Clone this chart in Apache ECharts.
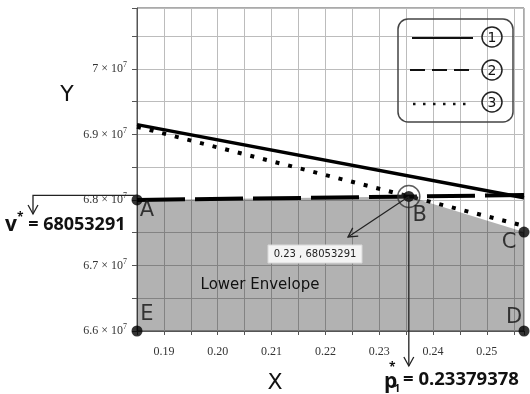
<!DOCTYPE html>
<html>
<head>
<meta charset="utf-8">
<script src="https://cdn.jsdelivr.net/npm/echarts@6/dist/echarts.min.js"></script>
<style>html,body{margin:0;padding:0;background:#fff}#c{width:530px;height:394px}</style>
</head>
<body>
<div id="c"></div>
<script>
// ---- data ----
const xMin = 0.185, xMax = 0.2569, xInterval = 0.005;
const yMin = 66000000, yMax = 70930000, yInterval = 500000;
const line1 = [[0.185, 69150000], [0.2569, 68033000]];   // solid (1)
const line2 = [[0.185, 68000000], [0.2569, 68075000]];   // dashed (2)
const line3 = [[0.185, 69118000], [0.2569, 67605000]];   // dotted (3)
const envelope = [[0.185, 68000000], [0.2355, 68053291], [0.2569, 67510000]];
const pointNames = ['A', 'B', 'C', 'D', 'E'];
const pointValues = [[0.185, 68000000], [0.2355, 68053291], [0.2569, 67510000], [0.2569, 66000000], [0.185, 66000000]];
const bPoint = [0.2355, 68053291];
const vStarText = '68053291';
const pStarText = '0.23379378';
const tipText = '0.23 , 68053291';

const labelOffsets = {A: [10, 11], B: [11, 19], C: [-15, 10], D: [-10, -13], E: [10, -16]};
const chart = echarts.init(document.getElementById('c'));
const serif = 'Liberation Serif';
const handFont = 'Open Sans';
const letterFont = 'DejaVu Sans';

const option = {
  animation: false,
  grid: {left: 137, right: 6, top: 8, bottom: 63, show: true, borderColor: '#555', borderWidth: 1, backgroundColor: 'transparent'},
  xAxis: {
    type: 'value', min: xMin, max: xMax, interval: xInterval,
    axisLine: {show: true, lineStyle: {color: '#555'}},
    axisTick: {show: true, length: 4, lineStyle: {color: '#555'}},
    splitLine: {show: true, lineStyle: {color: '#bcbcbc', width: 1}},
    axisLabel: {
      margin: 15, fontFamily: serif, fontSize: 12, color: '#333',
      formatter: v => (Math.abs(v * 100 - Math.round(v * 100)) < 1e-6 ? v.toFixed(2) : '')
    }
  },
  yAxis: {
    type: 'value', min: yMin, max: yMax, interval: yInterval,
    axisLine: {show: true, lineStyle: {color: '#555'}},
    axisTick: {show: true, length: 5, lineStyle: {color: '#555'}},
    splitLine: {show: true, lineStyle: {color: '#bcbcbc', width: 1}},
    axisLabel: {
      margin: 10, color: '#333',
      formatter: v => {
        const k = v / 1e6;
        if (Math.abs(k - Math.round(k)) > 1e-6) return '';
        const m = parseFloat((v / 1e7).toFixed(2));
        return '{m|' + m + ' \u00d7 10}{s|7}';
      },
      rich: {
        m: {fontFamily: serif, fontSize: 12, color: '#333'},
        s: {fontFamily: serif, fontSize: 8, color: '#333', padding: [0, 0, 8, 0]}
      }
    }
  },
  series: [
    {type: 'line', data: envelope, symbol: 'none', lineStyle: {width: 0}, areaStyle: {color: 'rgba(0,0,0,0.3)', opacity: 1, origin: 'start'}, z: 1},
    {type: 'line', data: line1, symbol: 'none', lineStyle: {color: '#000', width: 3.5}, z: 3},
    {type: 'line', data: line2, symbol: 'none', lineStyle: {color: '#000', width: 4, type: [48, 10]}, z: 3},
    {type: 'line', data: line3, symbol: 'none', lineStyle: {color: '#000', width: 4, type: [4, 9]}, z: 3},
    {type: 'scatter', data: [bPoint], symbol: 'circle', symbolSize: 22, clip: false,
     itemStyle: {color: 'rgba(255,255,255,0.15)', borderColor: '#333', borderWidth: 1.5}, z: 4},
    {type: 'scatter', clip: false, symbolSize: 11, itemStyle: {color: '#000'}, z: 5,
     data: pointNames.map((n, i) => ({name: n, value: pointValues[i],
       label: {show: true, position: 'inside', offset: labelOffsets[n], formatter: n,
               fontFamily: letterFont, fontSize: 21, color: '#111'}}))}
  ]
};
chart.setOption(option);

const B = chart.convertToPixel({gridIndex: 0}, bPoint);
const axisLeft = chart.convertToPixel({gridIndex: 0}, [xMin, yMin]);
const lc = '#222';
function vHead(x, y, dx, dy, s) {
  const L = Math.hypot(dx, dy); const ux = dx / L, uy = dy / L;
  const px = -uy, py = ux;
  return {type: 'polyline', shape: {points: [[x - ux * s + px * s * 0.55, y - uy * s + py * s * 0.55], [x, y], [x - ux * s - px * s * 0.55, y - uy * s - py * s * 0.55]]},
    style: {stroke: lc, lineWidth: 1.3, fill: null}, z: 20};
}
const tipEnd = [348, 237];
const graphic = [
  {type: 'polyline', shape: {points: [[axisLeft[0], B[1] - 1], [33, B[1] - 1], [33, 214]]}, style: {stroke: lc, lineWidth: 1.3, fill: null}, z: 20},
  vHead(33, 214, 0, 1, 9),
  {type: 'text', x: 5, y: 225, style: {text: '{v|v}{st|*}{t| = ' + vStarText + '}', verticalAlign: 'middle',
    rich: {v: {fontFamily: handFont, fontSize: 21, fontWeight: 'bold', fill: '#111'},
           st: {fontFamily: handFont, fontSize: 12, fontWeight: 'bold', fill: '#111', padding: [0, 0, 14, 0]},
           t: {fontFamily: handFont, fontSize: 18, fontWeight: 'bold', fill: '#111'}}}, z: 20},
  {type: 'line', shape: {x1: B[0], y1: B[1], x2: B[0], y2: 366}, style: {stroke: lc, lineWidth: 1.3}, z: 20},
  vHead(B[0], 366, 0, 1, 9),
  {type: 'text', x: 384, y: 382, style: {text: 'p', fontFamily: handFont, fontSize: 21, fontWeight: 'bold', fill: '#111', verticalAlign: 'middle'}, z: 20},
  {type: 'text', x: 389, y: 368, style: {text: '*', fontFamily: handFont, fontSize: 12, fontWeight: 'bold', fill: '#111', verticalAlign: 'middle'}, z: 20},
  {type: 'text', x: 394, y: 389, style: {text: '1', fontFamily: handFont, fontSize: 11, fontWeight: 'bold', fill: '#111', verticalAlign: 'middle'}, z: 20},
  {type: 'text', x: 403, y: 380, style: {text: '= ' + pStarText, fontFamily: handFont, fontSize: 18.5, fontWeight: 'bold', fill: '#111', verticalAlign: 'middle'}, z: 20},
  {type: 'line', shape: {x1: B[0], y1: B[1], x2: tipEnd[0], y2: tipEnd[1]}, style: {stroke: lc, lineWidth: 1.2}, z: 20},
  vHead(tipEnd[0], tipEnd[1], tipEnd[0] - B[0], tipEnd[1] - B[1], 9),
  {type: 'rect', shape: {x: 268, y: 245, width: 94, height: 18}, style: {fill: '#f4f4f4', stroke: '#d8d8d8', lineWidth: 1}, z: 20},
  {type: 'text', x: 315, y: 254, style: {text: tipText, fontFamily: 'DejaVu Sans', fontSize: 10, fill: '#222', align: 'center', verticalAlign: 'middle'}, z: 21},
  {type: 'text', x: 67, y: 95, style: {text: 'Y', fontFamily: letterFont, fontSize: 22, fill: '#111', align: 'center', verticalAlign: 'middle'}, z: 20},
  {type: 'text', x: 275, y: 383, style: {text: 'X', fontFamily: letterFont, fontSize: 22, fill: '#111', align: 'center', verticalAlign: 'middle'}, z: 20},
  {type: 'text', x: 260, y: 285, style: {text: 'Lower Envelope', fontFamily: letterFont, fontSize: 15, fill: '#111', align: 'center', verticalAlign: 'middle'}, z: 20},
  {type: 'rect', shape: {x: 398, y: 19, width: 115, height: 103, r: 10}, style: {fill: null, stroke: '#444', lineWidth: 1.5}, z: 20},
  {type: 'line', shape: {x1: 412, y1: 38, x2: 473, y2: 38}, style: {stroke: '#111', lineWidth: 2}, z: 20},
  {type: 'line', shape: {x1: 410, y1: 70, x2: 473, y2: 70}, style: {stroke: '#111', lineWidth: 2, lineDash: [15, 7]}, z: 20},
  {type: 'line', shape: {x1: 413, y1: 104, x2: 473, y2: 104}, style: {stroke: '#111', lineWidth: 2.5, lineDash: [2.5, 7.5]}, z: 20}
];
[['1', 37], ['2', 70], ['3', 102]].forEach(([t, y]) => {
  graphic.push({type: 'circle', shape: {cx: 492, cy: y, r: 10}, style: {fill: null, stroke: '#222', lineWidth: 1.5}, z: 20});
  graphic.push({type: 'text', x: 492, y: y + 1, style: {text: t, fontFamily: 'DejaVu Sans', fontSize: 14, fill: '#111', align: 'center', verticalAlign: 'middle'}, z: 21});
});
chart.setOption({graphic: graphic});
</script>
</body>
</html>
